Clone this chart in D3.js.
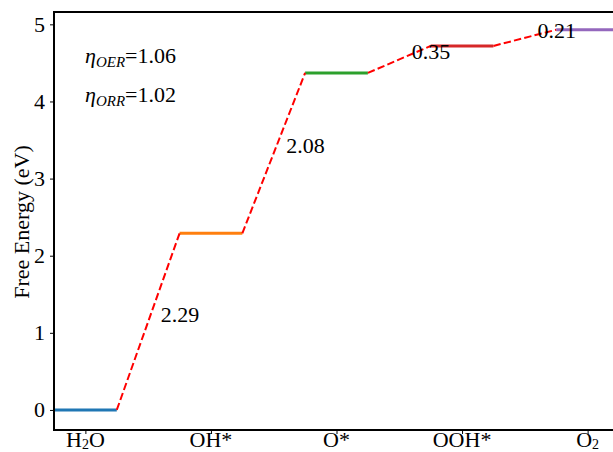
<!DOCTYPE html>
<html>
<head>
<meta charset="utf-8">
<script src="https://cdn.jsdelivr.net/npm/d3@7"></script>
<style>
  html, body { margin: 0; padding: 0; background: #fff; }
  svg { display: block; font-family: "Liberation Serif", "Times New Roman", serif; }
</style>
</head>
<body>
<svg id="chart" width="613" height="452"></svg>
<script>
// Reaction intermediates and their free energies (eV)
const steps = ["H2O", "OH*", "O*", "OOH*", "O2"];
const energies = [0, 2.29, 4.37, 4.72, 4.93];
const stepGaps = ["2.29", "2.08", "0.35", "0.21"];
const levelColors = ["#1f77b4", "#ff7f0e", "#2ca02c", "#d62728", "#9467bd"];
const yTicks = [0, 1, 2, 3, 4, 5];
const overpotentials = [
  { sub: "OER", value: "1.06" },
  { sub: "ORR", value: "1.02" }
];

const svg = d3.select("#chart");
const plotLeft = 54, plotTop = 12, plotBottom = 430, plotRight = 619;

const x = d3.scaleLinear().domain([-0.25, 4.25]).range([plotLeft, plotRight]);
const y = d3.scaleLinear().domain([-0.26, 5.16]).range([plotBottom, plotTop]);

// Energy levels
svg.append("g").selectAll("line").data(energies).join("line")
  .attr("x1", (d, i) => x(i - 0.25))
  .attr("x2", (d, i) => x(i + 0.25))
  .attr("y1", d => y(d))
  .attr("y2", d => y(d))
  .attr("stroke", (d, i) => levelColors[i])
  .attr("stroke-width", 3);

// Dashed connectors between levels
const links = d3.range(energies.length - 1);
svg.append("g").selectAll("line").data(links).join("line")
  .attr("x1", i => x(i + 0.25))
  .attr("x2", i => x(i + 0.75))
  .attr("y1", i => y(energies[i]))
  .attr("y2", i => y(energies[i + 1]))
  .attr("stroke", "#ff0000")
  .attr("stroke-width", 2)
  .attr("stroke-dasharray", "7.4,3.2");

// Step energy labels
svg.append("g").selectAll("text").data(links).join("text")
  .attr("x", i => x(i + 0.6))
  .attr("y", i => y((energies[i] + energies[i + 1]) / 2))
  .attr("font-size", 22)
  .attr("fill", "#000")
  .text(i => stepGaps[i]);

// Axes
const yAxis = d3.axisLeft(y).tickValues(yTicks).tickFormat(d3.format("d")).tickSize(4).tickPadding(5);
const gy = svg.append("g").attr("transform", `translate(${plotLeft},0)`).call(yAxis);
gy.select(".domain").remove();
gy.selectAll(".tick line").attr("stroke", "#000").attr("stroke-width", 1);
gy.selectAll(".tick text").attr("font-size", 22).attr("font-family", "Liberation Serif, serif").attr("fill", "#000");

const xAxis = d3.axisBottom(x).tickValues(d3.range(steps.length)).tickFormat(() => "").tickSize(4);
const gx = svg.append("g").attr("transform", `translate(0,${plotBottom})`).call(xAxis);
gx.select(".domain").remove();
gx.selectAll(".tick line").attr("stroke", "#000").attr("stroke-width", 1);

// Category labels with chemical subscripts
const labelG = svg.append("g");
steps.forEach((s, i) => {
  const t = labelG.append("text")
    .attr("x", x(i))
    .attr("y", 447)
    .attr("text-anchor", "middle")
    .attr("font-size", 22)
    .attr("fill", "#000");
  const m = s.match(/^([A-Za-z]+?)(\d)(.*)$/);
  if (m) {
    t.append("tspan").text(m[1]);
    t.append("tspan").attr("font-size", 14).attr("dy", 2).text(m[2]);
    t.append("tspan").attr("dy", -2).text(m[3]);
  } else {
    t.text(s);
  }
});

// Spines
const spine = (x1, y1, x2, y2) => svg.append("line")
  .attr("x1", x1).attr("y1", y1).attr("x2", x2).attr("y2", y2)
  .attr("stroke", "#000").attr("stroke-width", 2);
spine(plotLeft, plotTop - 1, plotLeft, plotBottom + 1);
spine(plotLeft - 1, plotBottom, plotRight, plotBottom);
spine(plotLeft - 1, plotTop, plotRight, plotTop);
spine(plotRight, plotTop, plotRight, plotBottom);

// Y axis title
svg.append("text")
  .attr("transform", `translate(29,${(plotTop + plotBottom) / 2 + 1}) rotate(-90)`)
  .attr("text-anchor", "middle")
  .attr("font-size", 22)
  .attr("fill", "#000")
  .text("Free Energy (eV)");

// Overpotential annotations
overpotentials.forEach((o, i) => {
  const t = svg.append("text")
    .attr("x", 85)
    .attr("y", 63 + i * 39)
    .attr("font-size", 22)
    .attr("fill", "#000");
  t.append("tspan").attr("font-style", "italic").text("η");
  t.append("tspan").attr("font-style", "italic").attr("font-size", 15).attr("dy", 4).text(o.sub);
  t.append("tspan").attr("dy", -4).text("=" + o.value);
});
</script>
</body>
</html>
